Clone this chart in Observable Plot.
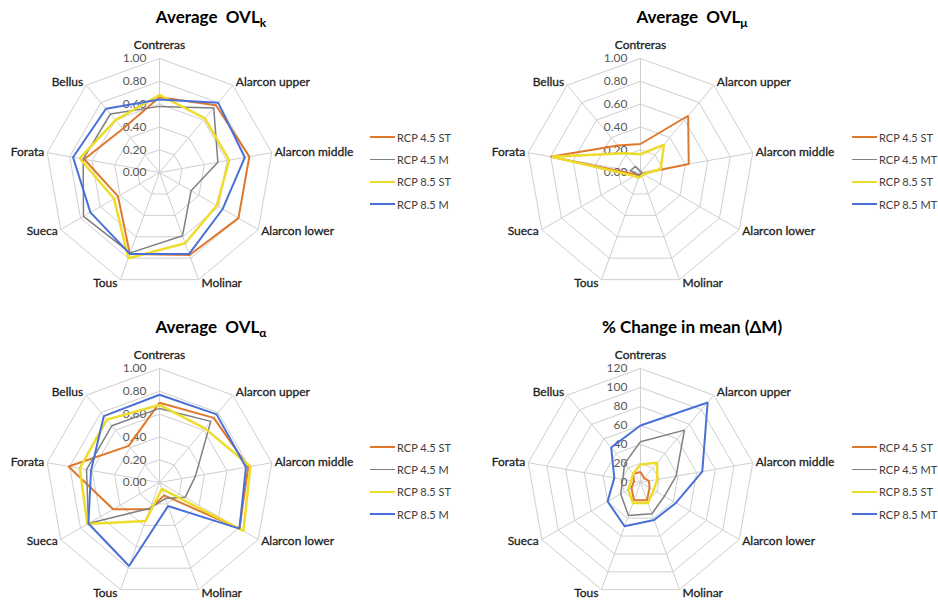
<!DOCTYPE html>
<html><head><meta charset="utf-8">
<script src="https://cdn.jsdelivr.net/npm/d3@7"></script>
<script src="https://cdn.jsdelivr.net/npm/@observablehq/plot@0.6"></script>
<style>
body{margin:0;background:#fff;font-family:Lato,"Open Sans",sans-serif;}
#wrap{position:relative;width:938px;height:600px;overflow:hidden;background:#fff;}
.panel{position:absolute;width:469px;height:300px;}
.title{position:absolute;font-weight:700;font-size:17px;line-height:20px;color:#000;white-space:nowrap;transform:translateX(-50%);}
.title sub{font-size:12px;vertical-align:-4px;line-height:0;}
.legend{position:absolute;font-size:11px;color:#404040;}
.legend .row{display:flex;align-items:center;height:22.3px;white-space:nowrap;}
.legend .sw{width:25px;height:0;margin-right:2px;}
</style></head>
<body><div id="wrap"></div>
<script>
// ---- data ----
const categories = ["Contreras","Alarcon upper","Alarcon middle","Alarcon lower","Molinar","Tous","Sueca","Forata","Bellus"];
const seriesNamesM  = ["RCP 4.5 ST","RCP 4.5 M","RCP 8.5 ST","RCP 8.5 M"];
const seriesNamesMT = ["RCP 4.5 ST","RCP 4.5 MT","RCP 8.5 ST","RCP 8.5 MT"];

const ticksOVL = [0, 0.2, 0.4, 0.6, 0.8, 1.0];
const tickLabelsOVL = ["0.00","0.20","0.40","0.60","0.80","1.00"];
const ticksPct = [0, 20, 40, 60, 80, 100, 120];
const tickLabelsPct = ["0","20","40","60","80","100","120"];

// Average OVL_k
const k_rcp45st = [0.66, 0.77, 0.80, 0.80, 0.77, 0.76, 0.42, 0.67, 0.50];
const k_rcp45m  = [0.58, 0.74, 0.52, 0.32, 0.59, 0.75, 0.77, 0.68, 0.67];
const k_rcp85st = [0.68, 0.62, 0.62, 0.58, 0.66, 0.80, 0.46, 0.71, 0.60];
const k_rcp85m  = [0.64, 0.80, 0.76, 0.64, 0.76, 0.76, 0.70, 0.77, 0.73];

// Average OVL_mu
const mu_rcp45st = [0.25, 0.65, 0.43, 0.02, 0.02, 0.03, 0.04, 0.80, 0.31];
const mu_rcp45mt = [0.01, 0.01, 0.01, 0.01, 0.01, 0.02, 0.03, 0.09, 0.07];
const mu_rcp85st = [0.16, 0.32, 0.18, 0.03, 0.03, 0.05, 0.06, 0.79, 0.22];
const mu_rcp85mt = [0, 0, 0, 0, 0, 0, 0, 0, 0];

// Average OVL_alpha
const a_rcp45st = [0.70, 0.74, 0.79, 0.81, 0.12, 0.25, 0.47, 0.81, 0.42];
const a_rcp45m  = [0.65, 0.70, 0.32, 0.26, 0.15, 0.24, 0.72, 0.65, 0.65];
const a_rcp85st = [0.68, 0.62, 0.81, 0.85, 0.06, 0.36, 0.73, 0.71, 0.72];
const a_rcp85m  = [0.77, 0.78, 0.77, 0.81, 0.22, 0.78, 0.72, 0.61, 0.76];

// % Change in mean
const d_rcp45st = [11, 6, 9, 11, 20, 20, 11, 7, 12];
const d_rcp45mt = [43, 72, 38, 29, 35, 37, 24, 19, 26];
const d_rcp85st = [19, 27, 18, 16, 23, 23, 15, 10, 12];
const d_rcp85mt = [60, 110, 66, 43, 42, 49, 40, 28, 48];

// ---- styles ----
const seriesColors = ["#E0782C", "#7F7F7F", "#EEDC2A", "#4A6FD6"];
const seriesWidths = [2, 1.5, 2.5, 2];

const panels = [
  {title: 'Average&nbsp; OVL<sub>k</sub>', series: [k_rcp45st, k_rcp45m, k_rcp85st, k_rcp85m], names: seriesNamesM,
   ticks: ticksOVL, tickLabels: tickLabelsOVL, max: 1, left: 0, top: 0, cx: 159, cy: 172, titleX: 211, titleY: 7, legX: 370, legY: 126},
  {title: 'Average&nbsp; OVL<sub>&mu;</sub>', series: [mu_rcp45st, mu_rcp45mt, mu_rcp85st, mu_rcp85mt], names: seriesNamesMT,
   ticks: ticksOVL, tickLabels: tickLabelsOVL, max: 1, left: 469, top: 0, cx: 171, cy: 172, titleX: 223, titleY: 7, legX: 383, legY: 126},
  {title: 'Average&nbsp; OVL<sub>&alpha;</sub>', series: [a_rcp45st, a_rcp45m, a_rcp85st, a_rcp85m], names: seriesNamesM,
   ticks: ticksOVL, tickLabels: tickLabelsOVL, max: 1, left: 0, top: 300, cx: 159, cy: 182, titleX: 211, titleY: 17, legX: 370, legY: 136},
  {title: '% Change in mean (&Delta;M)', series: [d_rcp45st, d_rcp45mt, d_rcp85st, d_rcp85mt], names: seriesNamesMT,
   ticks: ticksPct, tickLabels: tickLabelsPct, max: 120, left: 469, top: 300, cx: 171, cy: 182, titleX: 223, titleY: 17, legX: 383, legY: 136}
];

const W = 469, H = 300, R = 114;
const n = categories.length;
const ang = i => i * 2 * Math.PI / n;
const wrap = document.getElementById("wrap");

for (const p of panels) {
  const div = document.createElement("div");
  div.className = "panel";
  div.style.left = p.left + "px";
  div.style.top = p.top + "px";
  wrap.appendChild(div);

  const rings = p.ticks.slice(1).flatMap(t => d3.range(n + 1).map(i => ({
    t, x: t / p.max * Math.sin(ang(i % n)), y: t / p.max * Math.cos(ang(i % n))})));
  const spokes = categories.map((c, i) => ({c, x1: 0, y1: 0, x2: Math.sin(ang(i)), y2: Math.cos(ang(i))}));
  const tickData = p.ticks.map((t, i) => ({x: 0, y: t / p.max, label: p.tickLabels[i]}));
  const labelData = categories.map((c, i) => {
    const s = Math.sin(ang(i)), co = Math.cos(ang(i));
    const side = Math.abs(s) < 0.1 ? "top" : (s > 0 ? "right" : "left");
    if (side === "top") return {c, side, x: 0, y: 1 + 10 / R};
    return {c, side, x: s + Math.sign(s) * 3 / R, y: co * (1 + 4.2 / R)};
  });
  const seriesMarks = p.series.map((vals, s) => Plot.line(
    d3.range(n + 1).map(i => ({x: vals[i % n] / p.max * Math.sin(ang(i % n)), y: vals[i % n] / p.max * Math.cos(ang(i % n))})),
    {x: "x", y: "y", stroke: seriesColors[s], strokeWidth: seriesWidths[s], strokeLinejoin: "miter", strokeLinecap: "butt"}));

  const labelStyle = {x: "x", y: "y", text: "c", fill: "#222", stroke: "#222", strokeWidth: 0.3, fontSize: 12};
  const chart = Plot.plot({
    width: W, height: H, margin: 0,
    style: {fontFamily: "Lato, 'Open Sans', sans-serif", background: "transparent", overflow: "visible"},
    x: {domain: [-p.cx / R, (W - p.cx) / R], axis: null},
    y: {domain: [-(H - p.cy) / R, p.cy / R], axis: null},
    marks: [
      Plot.line(rings, {x: "x", y: "y", z: "t", stroke: "#cfcfcf", strokeWidth: 1}),
      Plot.link(spokes, {x1: "x1", y1: "y1", x2: "x2", y2: "y2", stroke: "#cfcfcf", strokeWidth: 1}),
      Plot.text(tickData, {x: "x", y: "y", text: "label", textAnchor: "end", dx: -13, fill: "#595959", fontSize: 12}),
      Plot.text(labelData.filter(d => d.side === "top"), {...labelStyle, textAnchor: "middle", lineAnchor: "bottom"}),
      Plot.text(labelData.filter(d => d.side === "right"), {...labelStyle, textAnchor: "start"}),
      Plot.text(labelData.filter(d => d.side === "left"), {...labelStyle, textAnchor: "end"}),
      ...seriesMarks
    ]
  });
  div.appendChild(chart);

  const title = document.createElement("div");
  title.className = "title";
  title.innerHTML = p.title;
  title.style.left = p.titleX + "px";
  title.style.top = p.titleY + "px";
  div.appendChild(title);

  const leg = document.createElement("div");
  leg.className = "legend";
  leg.style.left = p.legX + "px";
  leg.style.top = p.legY + "px";
  p.names.forEach((name, s) => {
    const row = document.createElement("div");
    row.className = "row";
    const sw = document.createElement("span");
    sw.className = "sw";
    sw.style.borderTop = seriesWidths[s] + "px solid " + seriesColors[s];
    row.appendChild(sw);
    const tx = document.createElement("span");
    tx.textContent = name;
    row.appendChild(tx);
    leg.appendChild(row);
  });
  div.appendChild(leg);
}
</script>
</body></html>
